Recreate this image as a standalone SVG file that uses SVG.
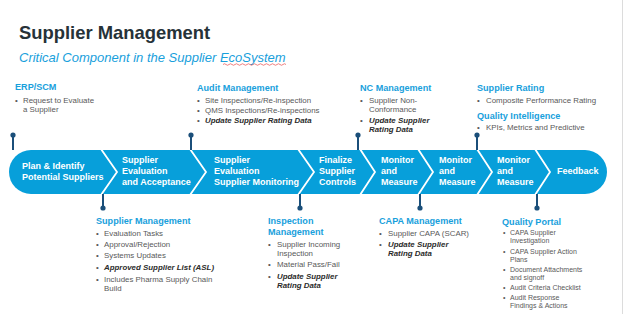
<svg xmlns="http://www.w3.org/2000/svg" width="624" height="314" viewBox="0 0 624 314">
<style>
text{font-family:"Liberation Sans",Arial,sans-serif}
.title{font-size:18.4px;font-weight:bold;fill:#263238}
.sub{font-size:13px;font-style:italic;fill:#18a0dc}
.hd{font-size:9.1px;font-weight:bold;fill:#18a0dc}
.b{font-size:7.9px;fill:#595959}
.bi{font-size:7.9px;font-weight:bold;font-style:italic;fill:#2b2b2b}
.s{font-size:7px;fill:#595959}
.st{font-size:9px;font-weight:bold;fill:#ffffff}
.seg{fill:#079fda}
.sep{fill:none;stroke:#ffffff;stroke-width:1.8}
.pin{stroke:#1b4f7a;stroke-width:2}
.dot{fill:#1b4f7a}
</style>
<rect width="624" height="314" fill="#ffffff"/>
<line x1="622.5" y1="0" x2="622.5" y2="314" stroke="#dcdcdc" stroke-width="1"/>
<g id="title">
<text class="title" x="19" y="39">Supplier Management</text>
<text class="sub" x="19" y="62">Critical Component in the Supplier EcoSystem</text>
<path d="M223,64.5 q1.5,-1.5 3,0 t3,0 t3,0 t3,0 t3,0 t3,0 t3,0 t3,0 t3,0 t3,0 t3,0 t3,0 t3,0 t3,0 t3,0 t3,0 t3,0 t3,0 t3,0 t3,0 t3,0" fill="none" stroke="#e84a4a" stroke-width="0.7"/>
</g>
<g id="stage-plan">
<path class="seg" d="M31,150 H101 L117,172 L101,194 H31 A22,22 0 0 1 31,150 Z"/>
<text class="st" x="22" y="169">Plan &amp; Identify</text>
<text class="st" x="22" y="180">Potential Suppliers</text>
</g>
<g id="stage-eval-accept">
<path class="seg" d="M101,150 H190 L206,172 L190,194 H101 L117,172 Z"/>
<text class="st" x="122" y="163">Supplier</text>
<text class="st" x="122" y="174">Evaluation</text>
<text class="st" x="122" y="185">and Acceptance</text>
</g>
<g id="stage-eval-monitor">
<path class="seg" d="M190,150 H298 L314,172 L298,194 H190 L206,172 Z"/>
<text class="st" x="214" y="163">Supplier</text>
<text class="st" x="214" y="174">Evaluation</text>
<text class="st" x="214" y="185">Supplier Monitoring</text>
</g>
<g id="stage-finalize">
<path class="seg" d="M298,150 H360 L375,172 L360,194 H298 L314,172 Z"/>
<text class="st" x="319" y="163">Finalize</text>
<text class="st" x="319" y="174">Supplier</text>
<text class="st" x="319" y="185">Controls</text>
</g>
<g id="stage-monitor-1">
<path class="seg" d="M360,150 H418 L433,172 L418,194 H360 L375,172 Z"/>
<text class="st" x="381" y="163">Monitor</text>
<text class="st" x="381" y="174">and</text>
<text class="st" x="381" y="185">Measure</text>
</g>
<g id="stage-monitor-2">
<path class="seg" d="M418,150 H477 L492,172 L477,194 H418 L433,172 Z"/>
<text class="st" x="439" y="163">Monitor</text>
<text class="st" x="439" y="174">and</text>
<text class="st" x="439" y="185">Measure</text>
</g>
<g id="stage-monitor-3">
<path class="seg" d="M477,150 H535 L550,172 L535,194 H477 L492,172 Z"/>
<text class="st" x="497" y="163">Monitor</text>
<text class="st" x="497" y="174">and</text>
<text class="st" x="497" y="185">Measure</text>
</g>
<g id="stage-feedback">
<path class="seg" d="M535,150 H585 A22,22 0 0 1 585,194 H535 L550,172 Z"/>
<text class="st" x="557" y="174">Feedback</text>
</g>
<g id="separators">
<polyline class="sep" points="101,149 117,172 101,195"/>
<polyline class="sep" points="190,149 206,172 190,195"/>
<polyline class="sep" points="298,149 314,172 298,195"/>
<polyline class="sep" points="360,149 375,172 360,195"/>
<polyline class="sep" points="418,149 433,172 418,195"/>
<polyline class="sep" points="477,149 492,172 477,195"/>
<polyline class="sep" points="535,149 550,172 535,195"/>
</g>
<g id="connectors">
<line class="pin" x1="13" y1="135" x2="13" y2="150"/><circle class="dot" cx="13" cy="135" r="2.6"/>
<line class="pin" x1="191" y1="135" x2="191" y2="150"/><circle class="dot" cx="191" cy="135" r="2.6"/>
<line class="pin" x1="358" y1="135" x2="358" y2="150"/><circle class="dot" cx="358" cy="135" r="2.6"/>
<line class="pin" x1="477" y1="135" x2="477" y2="150"/><circle class="dot" cx="477" cy="135" r="2.6"/>
<line class="pin" x1="103" y1="194" x2="103" y2="208"/><circle class="dot" cx="103" cy="208" r="2.6"/>
<line class="pin" x1="300" y1="194" x2="300" y2="208"/><circle class="dot" cx="300" cy="208" r="2.6"/>
<line class="pin" x1="420" y1="194" x2="420" y2="208"/><circle class="dot" cx="420" cy="208" r="2.6"/>
<line class="pin" x1="537" y1="194" x2="537" y2="208"/><circle class="dot" cx="537" cy="208" r="2.6"/>
</g>
<g id="erp-scm">
<text class="hd" x="15" y="90">ERP/SCM</text>
<text class="b" x="15" y="103">•</text><text class="b" x="23" y="103">Request to Evaluate</text>
<text class="b" x="23" y="112">a Supplier</text>
</g>
<g id="audit-management">
<text class="hd" x="197" y="91">Audit Management</text>
<text class="b" x="197" y="103">•</text><text class="b" x="205" y="103">Site Inspections/Re-inspection</text>
<text class="b" x="197" y="113">•</text><text class="b" x="205" y="113">QMS Inspections/Re-inspections</text>
<text class="b" x="197" y="123">•</text><text class="bi" x="205" y="123">Update Supplier Rating Data</text>
</g>
<g id="nc-management">
<text class="hd" x="360" y="91">NC Management</text>
<text class="b" x="360" y="103">•</text><text class="b" x="369" y="103">Supplier Non-</text>
<text class="b" x="369" y="112">Conformance</text>
<text class="b" x="360" y="123">•</text><text class="bi" x="369" y="123">Update Supplier</text>
<text class="bi" x="369" y="132">Rating Data</text>
</g>
<g id="supplier-rating">
<text class="hd" x="477" y="91">Supplier Rating</text>
<text class="b" x="477" y="103">•</text><text class="b" x="486" y="103">Composite Performance Rating</text>
<text class="hd" x="477" y="119">Quality Intelligence</text>
<text class="b" x="477" y="130">•</text><text class="b" x="486" y="130">KPIs, Metrics and Predictive</text>
</g>
<g id="supplier-management">
<text class="hd" x="96" y="224">Supplier Management</text>
<text class="b" x="96" y="236">•</text><text class="b" x="104" y="236">Evaluation Tasks</text>
<text class="b" x="96" y="247">•</text><text class="b" x="104" y="247">Approval/Rejection</text>
<text class="b" x="96" y="258">•</text><text class="b" x="104" y="258">Systems Updates</text>
<text class="b" x="96" y="270">•</text><text class="bi" x="104" y="270">Approved Supplier List (ASL)</text>
<text class="b" x="96" y="282">•</text><text class="b" x="104" y="282">Includes Pharma Supply Chain</text>
<text class="b" x="104" y="291">Build</text>
</g>
<g id="inspection-management">
<text class="hd" x="268" y="224">Inspection</text>
<text class="hd" x="268" y="235">Management</text>
<text class="b" x="268" y="247">•</text><text class="b" x="277" y="247">Supplier Incoming</text>
<text class="b" x="277" y="256">Inspection</text>
<text class="b" x="268" y="267">•</text><text class="b" x="277" y="267">Material Pass/Fail</text>
<text class="b" x="268" y="279">•</text><text class="bi" x="277" y="279">Update Supplier</text>
<text class="bi" x="277" y="288">Rating Data</text>
</g>
<g id="capa-management">
<text class="hd" x="379" y="224">CAPA Management</text>
<text class="b" x="379" y="236">•</text><text class="b" x="388" y="236">Supplier CAPA (SCAR)</text>
<text class="b" x="379" y="247">•</text><text class="bi" x="388" y="247">Update Supplier</text>
<text class="bi" x="388" y="256">Rating Data</text>
</g>
<g id="quality-portal">
<text class="hd" x="502" y="225">Quality Portal</text>
<text class="s" x="503" y="235">•</text><text class="s" x="510" y="235">CAPA Supplier</text>
<text class="s" x="510" y="243">Investigation</text>
<text class="s" x="503" y="254">•</text><text class="s" x="510" y="254">CAPA Supplier Action</text>
<text class="s" x="510" y="262">Plans</text>
<text class="s" x="503" y="272">•</text><text class="s" x="510" y="272">Document Attachments</text>
<text class="s" x="510" y="280">and signoff</text>
<text class="s" x="503" y="290">•</text><text class="s" x="510" y="290">Audit Criteria Checklist</text>
<text class="s" x="503" y="300">•</text><text class="s" x="510" y="300">Audit Response</text>
<text class="s" x="510" y="308">Findings &amp; Actions</text>
</g>
</svg>
